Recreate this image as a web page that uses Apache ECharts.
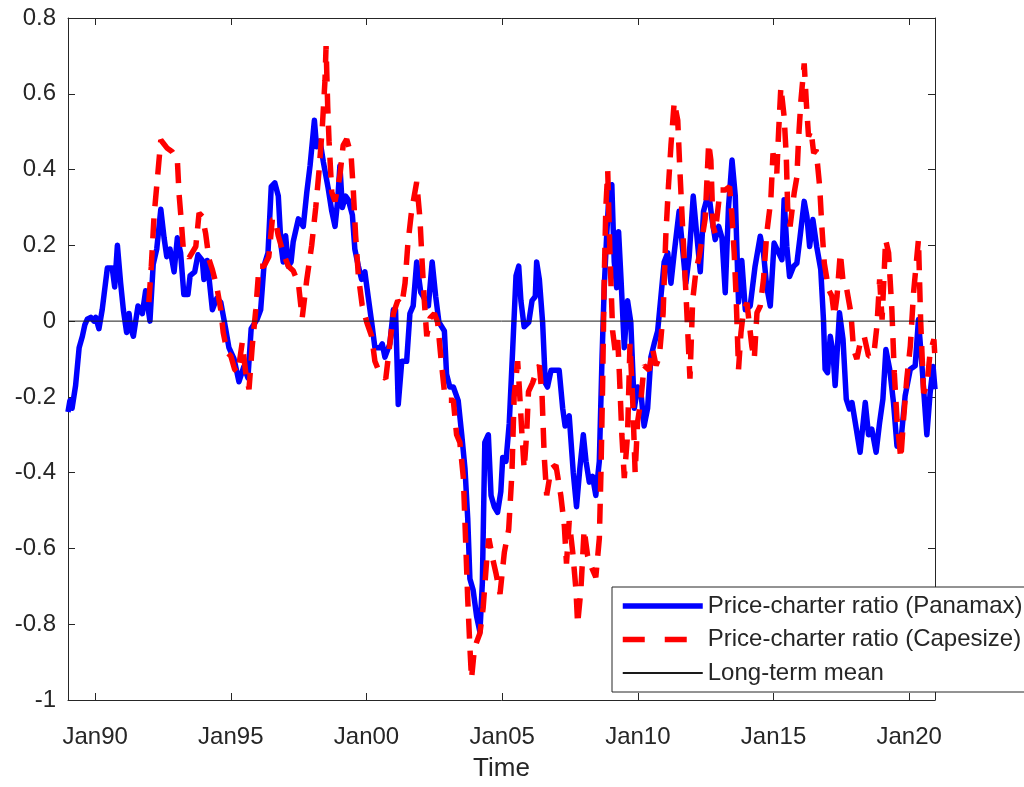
<!DOCTYPE html>
<html>
<head>
<meta charset="utf-8">
<title>Price-charter ratio</title>
<script src="https://cdn.jsdelivr.net/npm/echarts@6/dist/echarts.min.js"></script>
<style>
    html, body { margin: 0; padding: 0; background: #fff; }
    #chart { width: 1024px; height: 787px; }
</style>
</head>
<body>
<div id="chart"></div>
<script>
// x in decimal years, y = ratio
const xMin = 1989.0;
const xMax = 2020.95;
const tickYears = [1990, 1995, 2000, 2005, 2010, 2015, 2020];
const tickLabels = ['Jan90', 'Jan95', 'Jan00', 'Jan05', 'Jan10', 'Jan15', 'Jan20'];
const seriesNames = ['Price-charter ratio (Panamax)', 'Price-charter ratio (Capesize)', 'Long-term mean'];
const longTermMean = 0;

const panamax = [
    [1989.00,-0.24],[1989.07,-0.21],[1989.15,-0.23],[1989.28,-0.17],[1989.41,-0.07],[1989.53,-0.04],[1989.62,-0.01],
    [1989.71,0.005],[1989.84,0.01],[1989.96,0.0],[1990.02,0.01],[1990.14,-0.02],[1990.26,0.03],[1990.45,0.14],
    [1990.63,0.14],[1990.72,0.09],[1990.82,0.20],[1990.94,0.10],[1991.04,0.03],[1991.16,-0.03],[1991.25,0.02],
    [1991.31,-0.02],[1991.41,-0.04],[1991.58,0.04],[1991.74,0.02],[1991.86,0.08],[1992.02,0.0],[1992.14,0.15],
    [1992.27,0.19],[1992.42,0.295],[1992.54,0.22],[1992.64,0.17],[1992.76,0.19],[1992.91,0.13],[1993.03,0.22],
    [1993.15,0.18],[1993.27,0.07],[1993.42,0.07],[1993.50,0.12],[1993.67,0.13],[1993.79,0.175],[1993.95,0.16],
    [1994.01,0.11],[1994.13,0.16],[1994.32,0.03],[1994.48,0.06],[1994.63,0.05],[1994.81,-0.02],[1994.93,-0.07],
    [1995.12,-0.10],[1995.30,-0.16],[1995.48,-0.12],[1995.63,-0.15],[1995.75,-0.02],[1995.97,0.005],[1996.10,0.03],
    [1996.22,0.145],[1996.37,0.18],[1996.49,0.355],[1996.62,0.365],[1996.75,0.33],[1996.85,0.20],[1996.93,0.156],
    [1997.02,0.225],[1997.12,0.145],[1997.22,0.156],[1997.30,0.21],[1997.49,0.27],[1997.67,0.25],[1997.80,0.34],
    [1997.92,0.41],[1998.08,0.53],[1998.16,0.46],[1998.29,0.475],[1998.41,0.42],[1998.59,0.35],[1998.72,0.29],
    [1998.84,0.25],[1998.94,0.32],[1999.02,0.41],[1999.11,0.30],[1999.23,0.33],[1999.33,0.32],[1999.48,0.28],
    [1999.57,0.19],[1999.70,0.145],[1999.82,0.11],[1999.94,0.13],[2000.06,0.065],[2000.19,-0.003],[2000.31,-0.07],
    [2000.50,-0.07],[2000.58,-0.06],[2000.68,-0.095],[2000.86,-0.06],[2000.99,0.03],[2001.07,0.03],[2001.17,-0.22],
    [2001.30,-0.106],[2001.48,-0.106],[2001.60,0.02],[2001.72,0.04],[2001.85,0.156],[2002.00,0.076],[2002.09,0.065],
    [2002.28,0.04],[2002.42,0.156],[2002.55,0.065],[2002.67,-0.003],[2002.87,-0.026],[2002.95,-0.14],[2003.07,-0.174],
    [2003.20,-0.174],[2003.38,-0.21],[2003.51,-0.30],[2003.63,-0.39],[2003.73,-0.52],[2003.81,-0.68],[2003.93,-0.71],
    [2004.06,-0.78],[2004.18,-0.82],[2004.27,-0.69],[2004.36,-0.32],[2004.49,-0.30],[2004.59,-0.46],[2004.71,-0.49],
    [2004.83,-0.505],[2004.95,-0.45],[2005.02,-0.36],[2005.14,-0.37],[2005.26,-0.27],[2005.39,-0.07],[2005.51,0.12],
    [2005.61,0.145],[2005.69,0.054],[2005.81,-0.015],[2005.98,-0.003],[2006.10,0.054],[2006.22,0.065],[2006.27,0.156],
    [2006.37,0.11],[2006.49,-0.003],[2006.59,-0.163],[2006.67,-0.174],[2006.80,-0.13],[2006.98,-0.13],[2007.10,-0.13],
    [2007.23,-0.23],[2007.32,-0.277],[2007.47,-0.25],[2007.62,-0.40],[2007.74,-0.49],[2007.86,-0.39],[2007.99,-0.30],
    [2008.09,-0.37],[2008.21,-0.425],[2008.33,-0.41],[2008.45,-0.46],[2008.58,-0.37],[2008.68,-0.095],[2008.76,0.088],
    [2008.85,0.225],[2008.94,0.34],[2009.04,0.36],[2009.13,0.156],[2009.22,0.088],[2009.29,0.236],[2009.38,0.11],
    [2009.50,-0.07],[2009.62,0.054],[2009.74,-0.003],[2009.87,-0.23],[2009.99,-0.174],[2010.11,-0.186],[2010.23,-0.277],
    [2010.36,-0.23],[2010.48,-0.095],[2010.60,-0.06],[2010.73,-0.026],[2010.85,0.065],[2010.97,0.156],[2011.10,0.18],
    [2011.22,0.10],[2011.34,0.18],[2011.52,0.29],[2011.65,0.19],[2011.77,0.10],[2011.89,0.17],[2012.04,0.33],
    [2012.16,0.236],[2012.30,0.13],[2012.42,0.29],[2012.61,0.34],[2012.73,0.27],[2012.85,0.215],[2012.98,0.25],
    [2013.10,0.22],[2013.22,0.075],[2013.34,0.30],[2013.47,0.425],[2013.59,0.33],[2013.71,0.05],[2013.83,0.16],
    [2013.96,0.03],[2014.14,0.04],[2014.32,0.145],[2014.51,0.224],[2014.63,0.18],[2014.75,0.09],[2014.88,0.04],
    [2015.02,0.206],[2015.19,0.18],[2015.31,0.162],[2015.39,0.32],[2015.49,0.197],[2015.59,0.118],[2015.74,0.145],
    [2015.86,0.153],[2015.98,0.224],[2016.13,0.316],[2016.23,0.276],[2016.33,0.197],[2016.45,0.268],[2016.59,0.197],
    [2016.74,0.136],[2016.84,0.004],[2016.90,-0.127],[2016.99,-0.136],[2017.09,-0.04],[2017.19,-0.083],[2017.27,-0.17],
    [2017.43,0.022],[2017.56,-0.048],[2017.68,-0.206],[2017.80,-0.232],[2017.89,-0.215],[2018.01,-0.267],[2018.19,-0.346],
    [2018.38,-0.215],[2018.50,-0.30],[2018.62,-0.285],[2018.78,-0.346],[2018.91,-0.267],[2019.03,-0.206],[2019.14,-0.075],
    [2019.28,-0.127],[2019.42,-0.215],[2019.55,-0.33],[2019.69,-0.32],[2019.85,-0.197],[2020.04,-0.127],[2020.22,-0.118],
    [2020.34,0.004],[2020.47,-0.118],[2020.65,-0.30],[2020.77,-0.19],[2020.88,-0.12],[2020.95,-0.18]
];

const capesize = [
    [1991.98,0.05],[1992.07,0.145],[1992.17,0.276],[1992.29,0.373],[1992.42,0.478],[1992.66,0.456],[1992.84,0.447],
    [1993.03,0.425],[1993.09,0.338],[1993.17,0.268],[1993.25,0.19],[1993.46,0.167],[1993.71,0.197],[1993.83,0.285],
    [1993.95,0.276],[1994.07,0.232],[1994.20,0.162],[1994.32,0.136],[1994.48,0.092],[1994.63,0.03],[1994.72,-0.03],
    [1994.87,-0.083],[1995.00,-0.092],[1995.14,-0.127],[1995.26,-0.136],[1995.42,-0.057],[1995.55,-0.136],[1995.67,-0.18],
    [1995.79,-0.066],[1995.92,0.03],[1996.04,0.145],[1996.22,0.145],[1996.40,0.17],[1996.53,0.268],[1996.63,0.27],
    [1996.75,0.225],[1996.93,0.18],[1997.12,0.145],[1997.30,0.133],[1997.49,0.10],[1997.63,0.008],[1997.80,0.11],
    [1997.98,0.20],[1998.13,0.30],[1998.25,0.396],[1998.37,0.51],[1998.47,0.635],[1998.51,0.726],[1998.57,0.567],
    [1998.62,0.475],[1998.72,0.34],[1998.84,0.316],[1999.02,0.384],[1999.14,0.464],[1999.27,0.48],[1999.43,0.44],
    [1999.51,0.35],[1999.60,0.225],[1999.70,0.12],[1999.84,0.042],[2000.01,-0.003],[2000.19,-0.04],[2000.31,-0.106],
    [2000.50,-0.14],[2000.71,-0.152],[2000.86,-0.06],[2000.99,0.02],[2001.15,0.054],[2001.30,0.042],[2001.42,0.10],
    [2001.52,0.20],[2001.66,0.29],[2001.85,0.367],[2001.97,0.27],[2002.05,0.156],[2002.13,0.054],[2002.22,-0.04],
    [2002.34,0.008],[2002.50,0.02],[2002.62,-0.003],[2002.74,-0.095],[2002.87,-0.186],[2003.01,-0.209],[2003.20,-0.209],
    [2003.32,-0.30],[2003.44,-0.32],[2003.57,-0.414],[2003.65,-0.574],[2003.73,-0.733],[2003.81,-0.86],[2003.87,-0.944],
    [2003.97,-0.87],[2004.06,-0.847],[2004.18,-0.824],[2004.30,-0.756],[2004.43,-0.63],[2004.51,-0.574],[2004.66,-0.63],
    [2004.77,-0.665],[2004.92,-0.72],[2005.08,-0.61],[2005.24,-0.55],[2005.36,-0.40],[2005.44,-0.20],[2005.57,-0.106],
    [2005.63,-0.174],[2005.73,-0.30],[2005.81,-0.39],[2005.90,-0.30],[2005.97,-0.186],[2006.12,-0.163],[2006.27,-0.13],
    [2006.37,-0.117],[2006.47,-0.197],[2006.55,-0.357],[2006.64,-0.46],[2006.80,-0.39],[2006.98,-0.38],[2007.16,-0.46],
    [2007.29,-0.54],[2007.37,-0.64],[2007.47,-0.528],[2007.60,-0.61],[2007.72,-0.71],[2007.78,-0.80],[2007.90,-0.71],
    [2008.02,-0.55],[2008.15,-0.62],[2008.31,-0.653],[2008.45,-0.676],[2008.58,-0.574],[2008.64,-0.40],[2008.70,-0.174],
    [2008.76,0.11],[2008.82,0.30],[2008.89,0.396],[2008.97,0.18],[2009.07,-0.026],[2009.17,-0.083],[2009.26,-0.05],
    [2009.32,-0.14],[2009.41,-0.30],[2009.50,-0.414],[2009.62,-0.30],[2009.71,-0.06],[2009.81,-0.209],[2009.90,-0.40],
    [2009.99,-0.266],[2010.11,-0.209],[2010.23,-0.117],[2010.42,-0.13],[2010.54,-0.072],[2010.67,-0.117],[2010.79,-0.095],
    [2010.93,0.02],[2011.03,0.225],[2011.13,0.36],[2011.22,0.464],[2011.34,0.578],[2011.47,0.53],[2011.55,0.396],
    [2011.65,0.247],[2011.77,0.076],[2011.92,-0.152],[2012.02,0.054],[2012.14,0.133],[2012.26,0.17],[2012.48,0.27],
    [2012.61,0.47],[2012.69,0.425],[2012.77,0.25],[2012.85,0.232],[2013.03,0.346],[2013.22,0.346],[2013.38,0.355],
    [2013.47,0.276],[2013.55,0.18],[2013.62,0.066],[2013.71,-0.127],[2013.80,-0.03],[2013.90,0.03],[2014.02,0.048],
    [2014.20,-0.066],[2014.29,-0.10],[2014.39,0.022],[2014.51,0.04],[2014.63,0.11],[2014.75,0.232],[2014.90,0.32],
    [2014.98,0.443],[2015.12,0.39],[2015.19,0.504],[2015.27,0.618],[2015.39,0.54],[2015.47,0.434],[2015.52,0.30],
    [2015.61,0.25],[2015.76,0.338],[2015.86,0.38],[2015.92,0.478],[2016.01,0.583],[2016.13,0.68],[2016.21,0.575],
    [2016.29,0.487],[2016.38,0.504],[2016.48,0.443],[2016.57,0.452],[2016.70,0.355],[2016.78,0.25],[2016.87,0.153],
    [2017.03,0.083],[2017.15,0.066],[2017.24,0.013],[2017.34,0.066],[2017.46,0.18],[2017.58,0.092],[2017.70,0.083],
    [2017.85,0.022],[2017.95,-0.075],[2018.07,-0.10],[2018.22,-0.048],[2018.34,-0.04],[2018.50,-0.092],[2018.69,-0.092],
    [2018.81,-0.013],[2018.91,0.11],[2019.00,0.004],[2019.13,0.215],[2019.24,0.18],[2019.36,0.03],[2019.45,-0.136],
    [2019.55,-0.26],[2019.69,-0.364],[2019.79,-0.26],[2019.91,-0.153],[2020.04,-0.066],[2020.16,0.075],[2020.34,0.215],
    [2020.42,0.004],[2020.53,-0.19],[2020.65,-0.17],[2020.77,-0.083],[2020.91,-0.048],[2020.95,-0.10]
];

class RatioChart {

    constructor(elementId) {
        this._font = "'Liberation Sans', Arial, Helvetica, sans-serif";
        this._ink = '#262626';
        this._echarts = echarts.init(document.getElementById(elementId));
        this._update();
    }

    _xAxis(position) {
        var onBottom = position === 'bottom';
        return {
            type: 'value',
            position: position,
            min: xMin,
            max: xMax,
            name: onBottom ? 'Time' : '',
            nameLocation: 'middle',
            nameGap: 56,
            nameTextStyle: { fontFamily: this._font, fontSize: 26, color: this._ink },
            axisLine: { show: true, onZero: false, lineStyle: { color: this._ink, width: 1 } },
            axisTick: { show: true, inside: true, length: 7, customValues: tickYears, lineStyle: { color: this._ink } },
            axisLabel: {
                show: onBottom,
                customValues: tickYears,
                margin: 25,
                fontFamily: this._font,
                fontSize: 24,
                color: this._ink,
                formatter: function (v) {
                    return tickLabels[tickYears.indexOf(v)];
                }
            },
            splitLine: { show: false }
        };
    }

    _yAxis(position) {
        return {
            type: 'value',
            position: position,
            min: -1,
            max: 0.8,
            interval: 0.2,
            axisLine: { show: true, onZero: false, lineStyle: { color: this._ink, width: 1 } },
            axisTick: { show: true, inside: true, length: 7, lineStyle: { color: this._ink } },
            axisLabel: {
                show: position === 'left',
                margin: 12,
                fontFamily: this._font,
                fontSize: 24,
                color: this._ink,
                formatter: function (v) {
                    return String(Math.round(v * 10) / 10);
                }
            },
            splitLine: { show: false }
        };
    }

    _update() {
        var option = {
            animation: false,
            backgroundColor: '#fff',
            grid: { left: 68, right: 89, top: 18, bottom: 85 },
            legend: {
                orient: 'vertical',
                left: 612,
                top: 587,
                padding: [7, 16, 7, 8],
                itemWidth: 80,
                itemHeight: 14,
                itemGap: 9.5,
                backgroundColor: '#fff',
                borderColor: this._ink,
                borderWidth: 1,
                borderRadius: 0,
                itemStyle: { opacity: 0 },
                textStyle: { fontFamily: this._font, fontSize: 24, lineHeight: 24, color: this._ink },
                data: [
                    { name: seriesNames[0], lineStyle: { width: 5.5 } },
                    { name: seriesNames[1], lineStyle: { type: [22, 20], width: 5.5 } },
                    { name: seriesNames[2] }
                ]
            },
            xAxis: [this._xAxis('bottom'), this._xAxis('top')],
            yAxis: [this._yAxis('left'), this._yAxis('right')],
            series: [{
                name: seriesNames[0],
                type: 'line',
                symbol: 'none',
                data: panamax,
                lineStyle: { color: '#0000ff', width: 5.5, join: 'round' },
                itemStyle: { color: '#0000ff' },
                z: 2
            }, {
                name: seriesNames[1],
                type: 'line',
                symbol: 'none',
                data: capesize,
                lineStyle: { color: '#ff0000', width: 5.5, type: [20, 12] },
                itemStyle: { color: '#ff0000' },
                z: 3
            }, {
                name: seriesNames[2],
                type: 'line',
                symbol: 'none',
                data: [[xMin, longTermMean], [xMax, longTermMean]],
                lineStyle: { color: '#1a1a1a', width: 1 },
                itemStyle: { color: '#1a1a1a' },
                z: 4
            }]
        };
        this._echarts.setOption(option);
    }
}

new RatioChart('chart');
</script>
</body>
</html>
